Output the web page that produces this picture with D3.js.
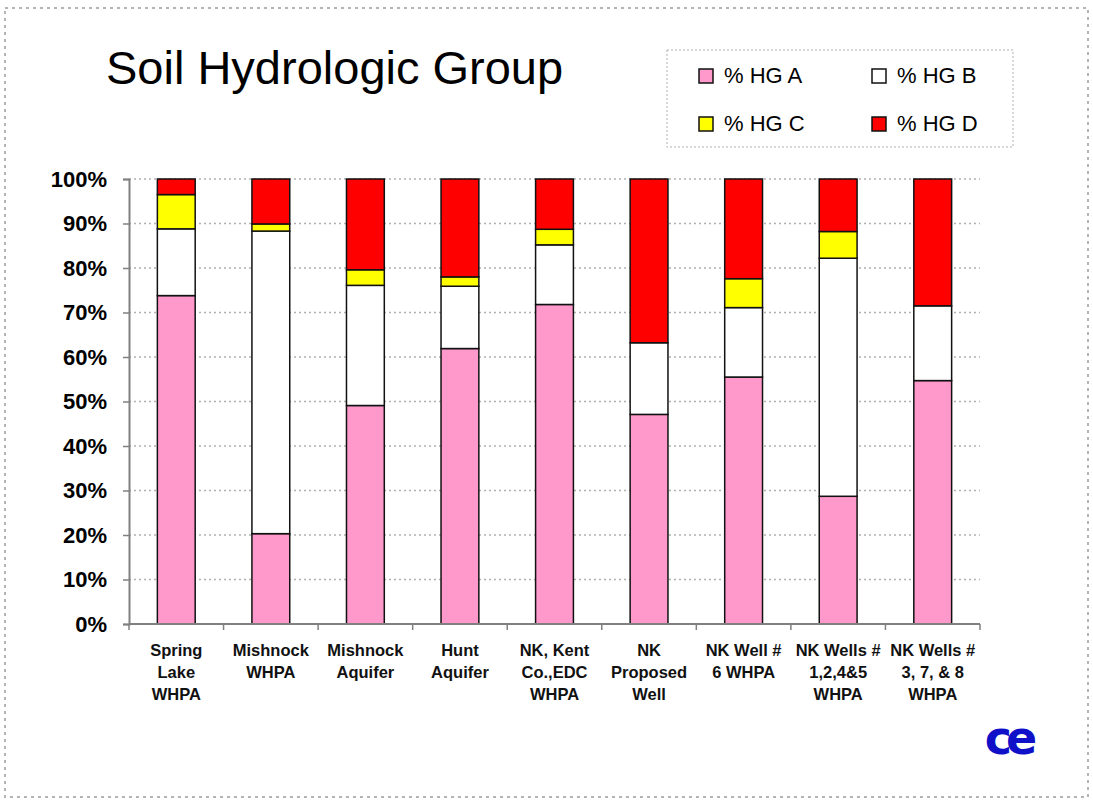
<!DOCTYPE html>
<html>
<head>
<meta charset="utf-8">
<script src="https://cdn.jsdelivr.net/npm/d3@7"></script>
<style>
  body { margin: 0; background: #fff; }
  svg { display: block; font-family: Arial, "Liberation Sans", sans-serif; }
</style>
</head>
<body>
<svg width="1093" height="801"></svg>
<script>
// chart data
var categories = [
    ["Spring", "Lake", "WHPA"],
    ["Mishnock", "WHPA"],
    ["Mishnock", "Aquifer"],
    ["Hunt", "Aquifer"],
    ["NK, Kent", "Co.,EDC", "WHPA"],
    ["NK", "Proposed", "Well"],
    ["NK Well #", "6 WHPA"],
    ["NK Wells #", "1,2,4&5", "WHPA"],
    ["NK Wells #", "3, 7, & 8", "WHPA"]
];
var hgA = [73.8, 20.3, 49.1, 61.9, 71.8, 47.1, 55.5, 28.7, 54.7];
var hgB = [15.0, 68.0, 27.0, 14.0, 13.4, 16.1, 15.6, 53.5, 16.8];
var hgC = [7.7, 1.6, 3.5, 2.1, 3.5, 0, 6.5, 6.0, 0];
var hgD = [3.5, 10.1, 20.4, 22.0, 11.3, 36.8, 22.4, 11.8, 28.5];
var seriesNames = ["% HG A", "% HG B", "% HG C", "% HG D"];
var yTicks = [0, 10, 20, 30, 40, 50, 60, 70, 80, 90, 100];

var svg = d3.select("svg"),
    width = +svg.attr("width"),
    height = +svg.attr("height");

var colors = ["#ff99cc", "#ffffff", "#ffff00", "#ff0000"];
var keys = ["a", "b", "c", "d"];

var rows = categories.map(function(c, i) {
    return { id: i, a: hgA[i], b: hgB[i], c: hgC[i], d: hgD[i] };
});

// slide border
svg.append("rect")
    .attr("x", 5).attr("y", 8)
    .attr("width", 1083).attr("height", 789)
    .attr("fill", "none")
    .attr("stroke", "#b4b4b4")
    .attr("stroke-width", 2)
    .attr("stroke-dasharray", "3,4");

// title
svg.append("text")
    .attr("x", 106).attr("y", 84)
    .attr("font-size", 47)
    .attr("fill", "#000")
    .text("Soil Hydrologic Group");

var plotLeft = 129, plotRight = 980, plotTop = 179, plotBottom = 624;

var x = d3.scaleBand()
    .domain(rows.map(function(d) { return d.id; }))
    .range([plotLeft, plotRight])
    .paddingInner(0.6)
    .paddingOuter(0.3);

var y = d3.scaleLinear()
    .domain([0, 100])
    .range([plotBottom, plotTop]);

// gridlines
svg.append("g")
    .selectAll("line")
    .data(yTicks.filter(function(t) { return t > 0; }))
    .enter().append("line")
    .attr("x1", plotLeft).attr("x2", plotRight)
    .attr("y1", function(d) { return y(d); })
    .attr("y2", function(d) { return y(d); })
    .attr("stroke", "#b0b0b0")
    .attr("stroke-width", 1.5)
    .attr("stroke-dasharray", "2,3");

// stacked bars
var stack = d3.stack().keys(keys);
var layers = svg.append("g").selectAll("g")
    .data(stack(rows))
    .enter().append("g")
    .attr("fill", function(d, i) { return colors[i]; });

layers.selectAll("rect")
    .data(function(d) { return d.filter(function(p) { return p[1] - p[0] > 0; }); })
    .enter().append("rect")
    .attr("x", function(d) { return x(d.data.id); })
    .attr("width", x.bandwidth())
    .attr("y", function(d) { return y(d[1]); })
    .attr("height", function(d) { return y(d[0]) - y(d[1]); })
    .attr("stroke", "#111")
    .attr("stroke-width", 1.5);

// y axis
var yAxis = svg.append("g")
    .attr("transform", "translate(" + plotLeft + ",0)")
    .call(d3.axisLeft(y).tickValues(yTicks).tickSize(6).tickPadding(16)
        .tickFormat(function(d) { return d + "%"; }));
yAxis.select(".domain").attr("stroke", "#808080").attr("stroke-width", 2);
yAxis.selectAll(".tick line").attr("stroke", "#808080").attr("stroke-width", 1.5);
yAxis.selectAll(".tick text")
    .attr("font-size", 22)
    .attr("font-weight", "bold")
    .attr("font-family", "Arial, 'Liberation Sans', sans-serif")
    .attr("fill", "#000");

// x axis line with ticks between categories
var bounds = d3.range(categories.length + 1).map(function(i) {
    return plotLeft + i * (plotRight - plotLeft) / categories.length;
});
var xAxis = svg.append("g");
xAxis.append("line")
    .attr("x1", plotLeft).attr("x2", plotRight)
    .attr("y1", plotBottom).attr("y2", plotBottom)
    .attr("stroke", "#808080").attr("stroke-width", 2);
xAxis.selectAll(".xt")
    .data(bounds)
    .enter().append("line")
    .attr("class", "xt")
    .attr("x1", function(d) { return d; }).attr("x2", function(d) { return d; })
    .attr("y1", plotBottom).attr("y2", plotBottom + 6)
    .attr("stroke", "#808080").attr("stroke-width", 1.5);

// category labels
var lab = svg.append("g").selectAll("text")
    .data(categories)
    .enter().append("text")
    .attr("x", function(d, i) { return x(i) + x.bandwidth() / 2; })
    .attr("y", 656)
    .attr("text-anchor", "middle")
    .attr("font-size", 16.5)
    .attr("font-weight", "bold")
    .attr("fill", "#111");
lab.selectAll("tspan")
    .data(function(d) { return d; })
    .enter().append("tspan")
    .attr("x", function() { return d3.select(this.parentNode).attr("x"); })
    .attr("dy", function(d, i) { return i === 0 ? 0 : 22; })
    .text(function(d) { return d; });

// legend
var legend = svg.append("g");
legend.append("rect")
    .attr("x", 667).attr("y", 50)
    .attr("width", 346).attr("height", 97)
    .attr("fill", "none")
    .attr("stroke", "#b0b0b0")
    .attr("stroke-width", 1)
    .attr("stroke-dasharray", "2,2");

var legPos = [[699, 69], [872, 69], [699, 117], [872, 117]];
var items = legend.selectAll(".item")
    .data(seriesNames)
    .enter().append("g")
    .attr("class", "item")
    .attr("transform", function(d, i) { return "translate(" + legPos[i][0] + "," + legPos[i][1] + ")"; });
items.append("rect")
    .attr("width", 14).attr("height", 14)
    .attr("fill", function(d, i) { return colors[i]; })
    .attr("stroke", "#111").attr("stroke-width", 1.5);
items.append("text")
    .attr("x", 25).attr("y", 14)
    .attr("font-size", 22)
    .attr("fill", "#000")
    .text(function(d) { return d; });

// logo
svg.append("text")
    .attr("x", 1008).attr("y", 754)
    .attr("text-anchor", "middle")
    .attr("font-size", 46)
    .attr("font-weight", "bold")
    .attr("font-family", "'DejaVu Sans', sans-serif")
    .attr("letter-spacing", -6)
    .attr("fill", "#1010c8")
    .text("ce");
</script>
</body>
</html>
